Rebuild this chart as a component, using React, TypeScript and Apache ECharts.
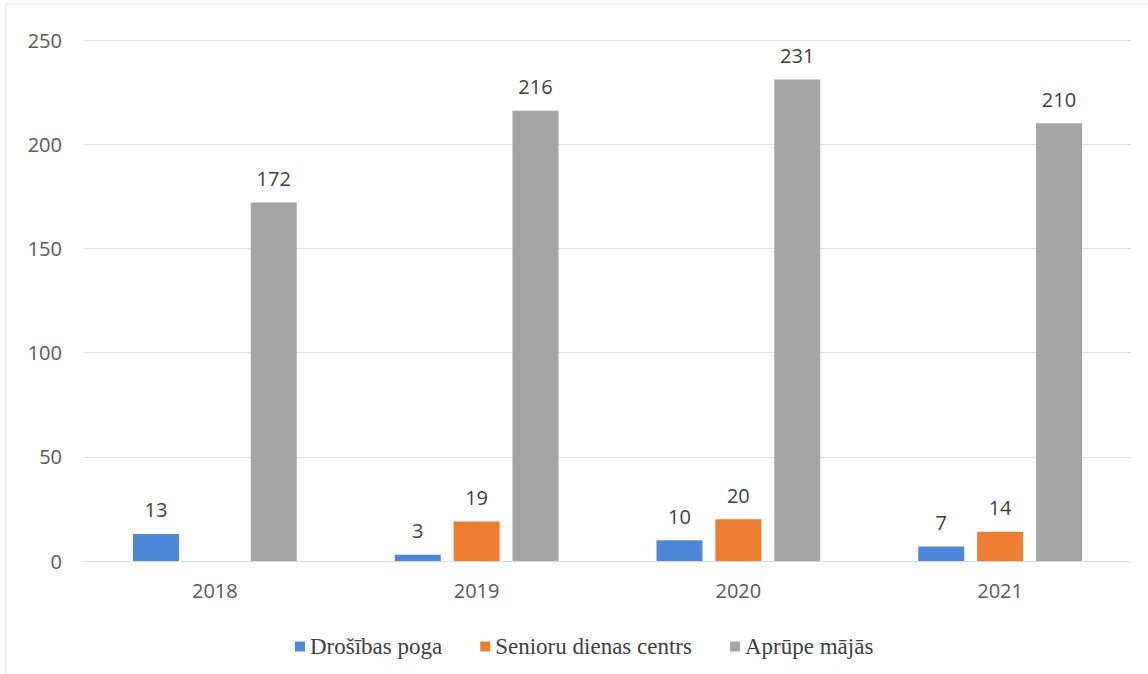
import React, { useEffect, useRef } from "react";
import * as echarts from "echarts";

const categories = ["2018", "2019", "2020", "2021"];
const seriesNames = ["Drošības poga", "Senioru dienas centrs", "Aprūpe mājās"];
const drosibasPoga = [13, 3, 10, 7];
const senioruCentrs: (number | null)[] = [null, 19, 20, 14];
const aprupeMajas = [172, 216, 231, 210];
const yTicks = { min: 0, max: 250, interval: 50 };

const colors = ["#4d87d8", "#ed7d31", "#a5a5a5"];

export default function App() {
  const ref = useRef<HTMLDivElement>(null);
  useEffect(() => {
    document.body.style.margin = "0";
    const chart = echarts.init(ref.current!, null, { renderer: "svg" });
    const label = {
      show: true,
      position: "top" as const,
      distance: 14,
      fontFamily: "Open Sans",
      fontSize: 20,
      color: "#404040",
    };
    const mk = (name: string, data: (number | null)[], color: string) => ({
      name,
      type: "bar" as const,
      data,
      barWidth: 46,
      barGap: "28%",
      itemStyle: { color },
      label,
    });
    chart.setOption({
      animation: false,
      backgroundColor: "#ffffff",
      grid: { left: 84, right: 17, top: 40, bottom: 113, containLabel: false },
      graphic: [
        {
          type: "rect",
          shape: { x: 6, y: 4, width: 1160, height: 700 },
          style: { fill: "none", stroke: "#e4e4e4", lineWidth: 1 },
          silent: true,
        },
      ],
      legend: {
        top: 630,
        left: 290,
        itemWidth: 10,
        itemHeight: 10,
        itemGap: 38,
        icon: "rect",
        formatter: "{s|{name}}",
        textStyle: {
          fontFamily: "serif",
          fontSize: 23,
          color: "#404040",
          rich: {
            s: {
              fontFamily: "serif",
              fontSize: 23,
              color: "#404040",
            },
          },
        },
        data: seriesNames,
      },
      xAxis: {
        type: "category",
        data: categories,
        axisLine: { show: true, lineStyle: { color: "#d9d9d9" } },
        axisTick: { show: false },
        axisLabel: {
          fontFamily: "Open Sans",
          fontSize: 20,
          color: "#595959",
          margin: 19,
        },
      },
      yAxis: {
        type: "value",
        min: yTicks.min,
        max: yTicks.max,
        interval: yTicks.interval,
        axisLine: { show: false },
        axisTick: { show: false },
        splitLine: { lineStyle: { color: "#e0e0e0" } },
        axisLabel: {
          fontFamily: "Open Sans",
          fontSize: 20,
          color: "#595959",
          margin: 22,
        },
      },
      series: [
        mk(seriesNames[0], drosibasPoga, colors[0]),
        mk(seriesNames[1], senioruCentrs, colors[1]),
        mk(seriesNames[2], aprupeMajas, colors[2]),
      ],
    });
    return () => chart.dispose();
  }, []);
  return <div ref={ref} style={{ width: 1148, height: 674 }} />;
}
